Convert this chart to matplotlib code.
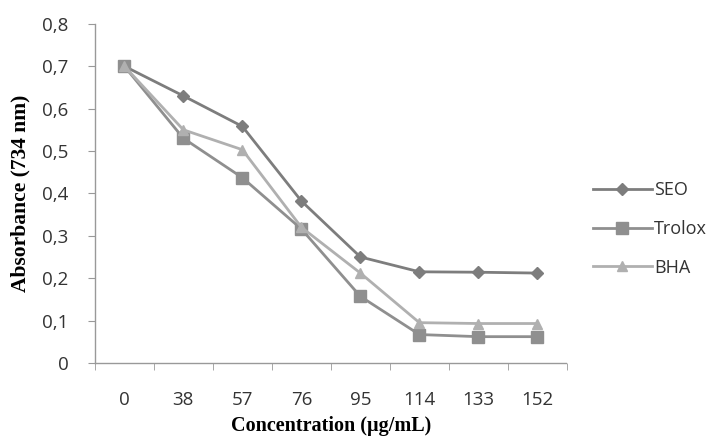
import matplotlib
matplotlib.use("Agg")
import matplotlib.pyplot as plt
from matplotlib.ticker import FixedLocator, FuncFormatter

concentrations = ["0", "38", "57", "76", "95", "114", "133", "152"]
seo = [0.70, 0.630, 0.558, 0.382, 0.250, 0.215, 0.214, 0.212]
trolox = [0.70, 0.530, 0.437, 0.316, 0.157, 0.067, 0.062, 0.062]
bha = [0.70, 0.550, 0.503, 0.320, 0.212, 0.095, 0.093, 0.093]

TICK_FONT = ["Open Sans", "DejaVu Sans"]
LABEL_FONT = "Liberation Serif"

fig = plt.figure(figsize=(7.24, 4.41), dpi=100)
ax = fig.add_axes([0.131, 0.177, 0.652, 0.769])

ax.plot(concentrations, seo, color="#7d7d7d", marker="D", markersize=6,
        linewidth=2.0, label="SEO")
ax.plot(concentrations, trolox, color="#8f8f8f", marker="s", markersize=8,
        linewidth=2.0, label="Trolox")
ax.plot(concentrations, bha, color="#b0b0b0", marker="^", markersize=7,
        linewidth=2.0, label="BHA")

ax.set_xlim(-0.5, len(concentrations) - 0.5)
ax.set_ylim(0, 0.8)
ax.set_yticks([i / 10 for i in range(9)])
ax.yaxis.set_major_formatter(FuncFormatter(
    lambda v, p: "0" if abs(v) < 1e-9 else f"{v:.1f}".replace(".", ",")))

# category boundary ticks
ax.xaxis.set_minor_locator(FixedLocator([i - 0.5 for i in range(len(concentrations) + 1)]))
ax.tick_params(axis="x", which="major", length=0, pad=20)
ax.tick_params(axis="x", which="minor", length=5, color="#999999", direction="out")
ax.tick_params(axis="y", length=5, color="#999999", pad=14)

for lab in ax.get_xticklabels() + ax.get_yticklabels():
    lab.set_family(TICK_FONT)
    lab.set_fontsize(13.5)
    lab.set_color("#333333")

for side in ["top", "right"]:
    ax.spines[side].set_visible(False)
for side in ["left", "bottom"]:
    ax.spines[side].set_color("#999999")
    ax.spines[side].set_linestyle((0, (1, 1)))
    ax.spines[side].set_linewidth(1.0)

ax.set_xlabel("Concentration (\u00b5g/mL)", family=LABEL_FONT, fontsize=14.5,
              fontweight="bold", labelpad=5)
ax.set_ylabel("Absorbance (734 nm)", family=LABEL_FONT, fontsize=15.5,
              fontweight="bold", labelpad=8)

leg = ax.legend(loc="center left", bbox_to_anchor=(1.02, 0.395), frameon=False,
                prop={"family": TICK_FONT, "size": 13}, labelspacing=1.15,
                handlelength=3.3, handletextpad=0.1)
for t in leg.get_texts():
    t.set_color("#333333")

fig.savefig("out.png", dpi=100)
